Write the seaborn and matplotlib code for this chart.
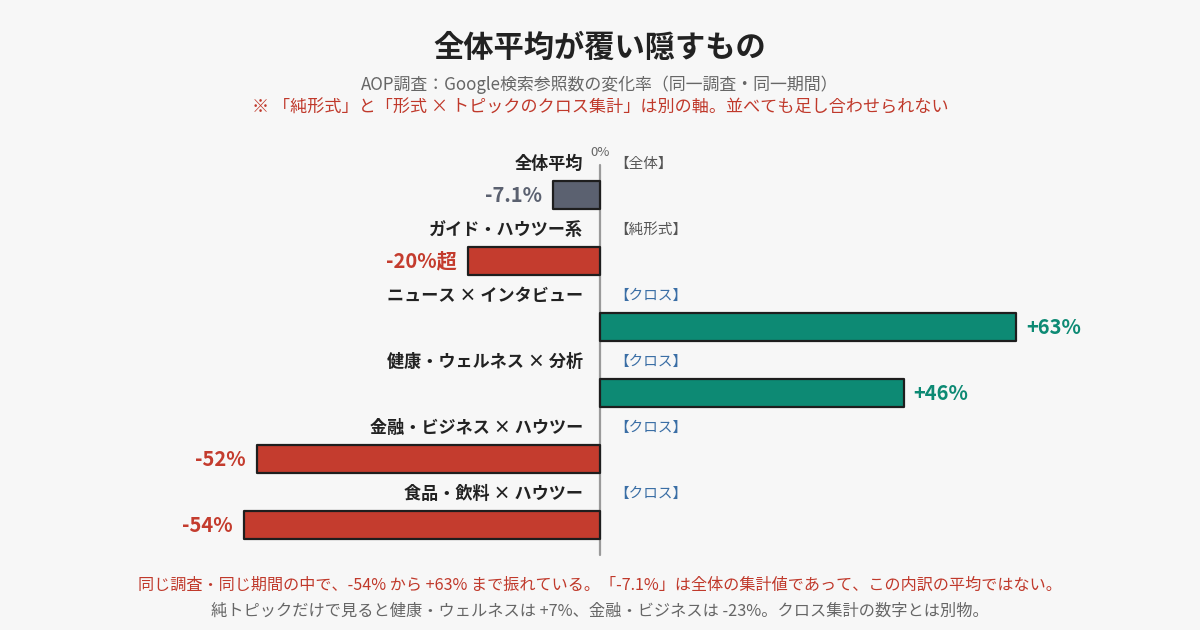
import matplotlib
matplotlib.use("Agg")
import matplotlib.pyplot as plt
import seaborn as sns
import pandas as pd

categories = ["全体平均", "ガイド・ハウツー系", "ニュース × インタビュー",
              "健康・ウェルネス × 分析", "金融・ビジネス × ハウツー", "食品・飲料 × ハウツー"]
values = [-7.1, -20, 63, 46, -52, -54]
value_labels = ["-7.1%", "-20%超", "+63%", "+46%", "-52%", "-54%"]
tags = ["【全体】", "【純形式】", "【クロス】", "【クロス】", "【クロス】", "【クロス】"]
bar_colors = ["#5b6170", "#c43c2e", "#0d8a74", "#0d8a74", "#c43c2e", "#c43c2e"]
tag_colors = ["#555555", "#555555", "#3a6ea5", "#3a6ea5", "#3a6ea5", "#3a6ea5"]

title = "全体平均が覆い隠すもの"
subtitle = "AOP調査：Google検索参照数の変化率（同一調査・同一期間）"
note = "※ 「純形式」と「形式 × トピックのクロス集計」は別の軸。並べても足し合わせられない"
foot1 = "同じ調査・同じ期間の中で、-54% から +63% まで振れている。「-7.1%」は全体の集計値であって、この内訳の平均ではない。"
foot2 = "純トピックだけで見ると健康・ウェルネスは +7%、金融・ビジネスは -23%。クロス集計の数字とは別物。"

sns.set_theme(style="white")
plt.rcParams['font.family'] = ['Noto Sans CJK JP', 'DejaVu Sans']
BG = "#f7f7f7"

fig = plt.figure(figsize=(12, 6.3), dpi=100, facecolor=BG)
# axes spans pixel rows 140..560 across full width
ax = fig.add_axes([0, 1 - 560 / 630, 1, 420 / 630])
ax.set_facecolor(BG)

df = pd.DataFrame({"cat": categories, "val": values})
sns.barplot(data=df, x="val", y="cat", hue="cat", palette=bar_colors,
            dodge=False, legend=False, width=0.424, ax=ax, saturation=1,
            edgecolor="#1e1e1e", linewidth=1.6, orient="h")
for p in ax.patches:
    p.set_joinstyle("round")

px_per = 6.6
ax.set_xlim(-600 / px_per, 600 / px_per)
ax.set_ylim(365 / 66, -55 / 66)
ax.axis("off")

# zero line
ax.plot([0, 0], [-0.45, 5.45], color="#9a9a9a", lw=1.6, zorder=0)
ax.text(0, -0.64, "0%", ha="center", va="center", fontsize=9.5, color="#666666")

for i, (c, v, vl, t, bc, tc) in enumerate(zip(categories, values, value_labels,
                                             tags, bar_colors, tag_colors)):
    ax.text(-17 / px_per, i - 0.47, c, ha="right", va="center", fontsize=12.3,
            fontweight="bold", color="#222222")
    ax.text(14 / px_per, i - 0.47, t, ha="left", va="center", fontsize=10.5, color=tc)
    if v < 0:
        ax.text(v - 11 / px_per, i, vl, ha="right", va="center", fontsize=14.5,
                fontweight="bold", color=bc)
    else:
        ax.text(v + 10 / px_per, i, vl, ha="left", va="center", fontsize=14.5,
                fontweight="bold", color=bc)

fig.text(0.5, 1 - 48 / 630, title, ha="center", va="center", fontsize=21.8,
         fontweight="bold", color="#222222")
fig.text(0.5, 1 - 85 / 630, subtitle, ha="center", va="center", fontsize=12.2,
         color="#666666")
fig.text(0.5, 1 - 108 / 630, note, ha="center", va="center", fontsize=12.3,
         color="#c0392b")
fig.text(0.5, 1 - 585 / 630, foot1, ha="center", va="center", fontsize=11.6,
         color="#c0392b")
fig.text(0.5, 1 - 611 / 630, foot2, ha="center", va="center", fontsize=11.7,
         color="#666666")

fig.savefig("out.png", dpi=100, facecolor=BG)
